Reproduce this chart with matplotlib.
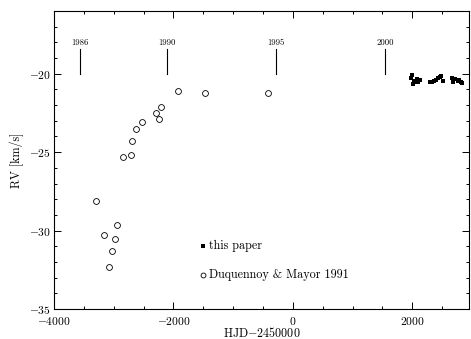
import matplotlib
matplotlib.use("Agg")
import matplotlib.pyplot as plt
import matplotlib.transforms as mtransforms
from matplotlib.ticker import MultipleLocator

plt.rcParams['font.family'] = ['cmr10', 'DejaVu Serif']
plt.rcParams['axes.formatter.use_mathtext'] = True
plt.rcParams['mathtext.fontset'] = 'cm'

# Duquennoy & Mayor 1991 (open circles)
dm_hjd = [-3297, -3163, -3079, -3029, -2979, -2945, -2845, -2711, -2694,
          -2627, -2527, -2293, -2243, -2209, -1925, -1473, -418]
dm_rv = [-28.1, -30.25, -32.35, -31.3, -30.55, -29.65, -25.3, -25.2, -24.3,
         -23.5, -23.1, -22.5, -22.9, -22.1, -21.1, -21.2, -21.2]

# this paper (filled squares)
tp_hjd = [1975, 2000, 2025, 2042, 2075, 2092, 2125, 2010,
          2290, 2330, 2360, 2395, 2430, 2460, 2480, 2510,
          2660, 2680, 2720, 2760, 2790, 2820, 2840]
tp_rv = [-20.30, -20.05, -20.45, -20.55, -20.35, -20.50, -20.40, -20.65,
         -20.55, -20.50, -20.45, -20.40, -20.30, -20.20, -20.15, -20.45,
         -20.25, -20.50, -20.35, -20.45, -20.40, -20.55, -20.60]

years = ['1986', '1990', '1995', '2000']
year_hjd = [-3568.5, -2107.5, -281.5, 1544.5]

fig = plt.figure(figsize=(4.71, 3.39), dpi=100)
ax = fig.add_axes([0.1146, 0.0885, 0.881, 0.879])

ax.plot(dm_hjd, dm_rv, 'o', mfc='none', mec='black', ms=4.2, mew=0.6)
ax.plot(tp_hjd, tp_rv, 's', color='black', ms=3.0, mew=0)

for lab, x in zip(years, year_hjd):
    ax.plot([x, x], [-18.45, -20.0], color='black', lw=0.8)
    ax.text(x, -18.0, lab, ha='center', va='center', fontsize=6.3)

# legend drawn by hand
ax.plot([-1500], [-31.0], 's', color='black', ms=2.6, mew=0)
ax.text(-1400, -31.0, 'this paper', va='center', fontsize=8.7)
ax.plot([-1500], [-32.85], 'o', mfc='none', mec='black', ms=3.5, mew=0.6)
ax.text(-1400, -32.85, 'Duquennoy & Mayor 1991', va='center', fontsize=8.7)

ax.set_xlim(-4000, 2950)
ax.set_ylim(-35, -16)
ax.xaxis.set_major_locator(MultipleLocator(2000))
ax.xaxis.set_minor_locator(MultipleLocator(500))
ax.yaxis.set_major_locator(MultipleLocator(5))
ax.yaxis.set_minor_locator(MultipleLocator(1))
ax.tick_params(which='both', direction='in', top=True, right=True,
               labelsize=8.3, width=0.7, pad=2)
ax.tick_params(axis='x', which='both', pad=4)
ax.tick_params(which='major', length=5)
ax.tick_params(which='minor', length=2.5)
for s in ax.spines.values():
    s.set_linewidth(0.8)

ax.set_xlabel('HJD$-$2450000', fontsize=8.7, labelpad=-0.5)
ax.set_ylabel('RV [km/s]', fontsize=8.7, labelpad=4)

# lift the bottom y label a little so it clears the -4000 label
fig.canvas.draw()
bottom_lbl = ax.get_yticklabels()[0]
bottom_lbl.set_transform(bottom_lbl.get_transform() +
                         mtransforms.ScaledTranslation(0, 2.5 / 72, fig.dpi_scale_trans))

fig.savefig('out.png', dpi=100)
